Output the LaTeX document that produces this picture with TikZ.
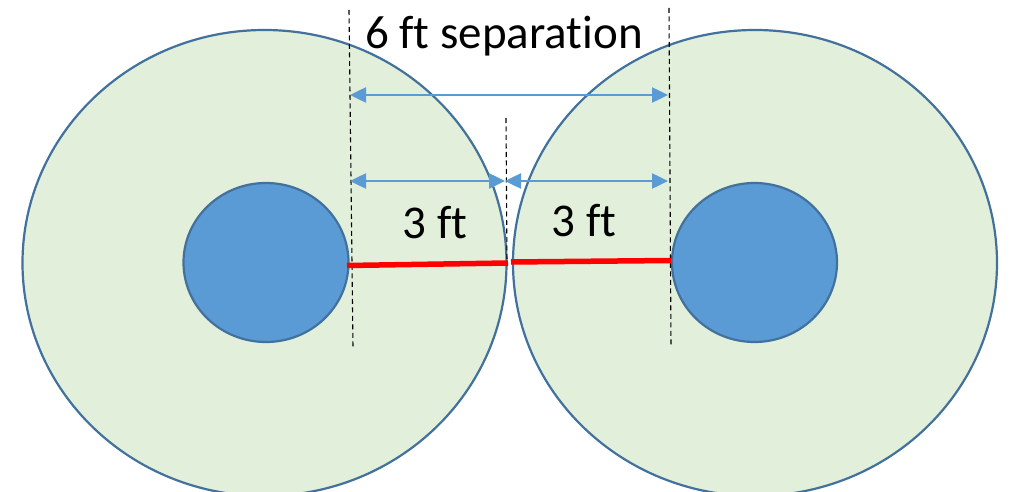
\documentclass[tikz,border=0pt]{standalone}
\usepackage{fontspec}
\setmainfont[Ligatures=NoCommon]{Carlito}
\usetikzlibrary{shapes.geometric,arrows.meta}
\definecolor{zonefill}{HTML}{E2EFDA}
\definecolor{edgeblue}{HTML}{41719C}
\definecolor{personfill}{HTML}{5B9BD5}
\definecolor{arrowblue}{HTML}{5B9BD5}
\tikzset{
  zone/.style={ellipse, draw=edgeblue, fill=zonefill, line width=2.2pt, inner sep=0pt, minimum width=484pt, minimum height=466pt},
  person/.style={ellipse, draw=edgeblue, fill=personfill, line width=2.2pt, inner sep=0pt, minimum width=165pt, minimum height=159pt},
  guide/.style={draw=black, line width=1.1pt, dash pattern=on 5pt off 3.5pt},
  dim/.style={draw=arrowblue, line width=2.5pt, {Triangle[length=16pt,width=15pt]}-{Triangle[length=16pt,width=15pt]}},
  reach/.style={draw=red, line width=5.5pt},
  lbl/.style={font=\fontsize{47}{52}\selectfont, inner sep=0pt}
}
\begin{document}
\begin{tikzpicture}[x=1pt,y=-1pt]
\useasboundingbox (0,0) rectangle (1010,492);
\clip (0,0) rectangle (1010,492);
\fill[white] (0,0) rectangle (1010,492);
\node[zone] (zoneL) at (264.5,263) {};
\node[zone] (zoneR) at (755,263) {};
\node[person] (personL) at (266,262.5) {};
\node[person] (personR) at (754.5,262.5) {};
% guide lines
\coordinate (gLt) at (349,10);
\coordinate (gLb) at (353,348);
\coordinate (gRt) at (669,8);
\coordinate (gRb) at (671,346);
\coordinate (gMt) at (506,118);
\coordinate (gMb) at (507,266);
\draw[guide] (gLt) -- (gLb);
\draw[guide] (gRt) -- (gRb);
\draw[guide] (gMt) -- (gMb);
% dimension arrows
\coordinate (aTL) at (350,95);
\coordinate (aTR) at (668,95);
\coordinate (aML) at (350,181);
\coordinate (aMC) at (505,181);
\coordinate (aMR) at (668,181);
\draw[dim] (aTL) -- (aTR);
\draw[dim] (aML) -- (aMC);
\draw[dim] (aMC) -- (aMR);
% red reach lines
\coordinate (rL1) at (347,265.5);
\coordinate (rL2) at (508,263);
\coordinate (rR1) at (511,262);
\coordinate (rR2) at (671,260.5);
\draw[reach] (rL1) -- (rL2);
\draw[reach] (rR1) -- (rR2);
% labels
\node[lbl] (sep) at (504,36) {6 ft separation};
\node[lbl] (dL) at (435,223) {3 ft};
\node[lbl] (dR) at (584,221) {3 ft};
\end{tikzpicture}
\end{document}
